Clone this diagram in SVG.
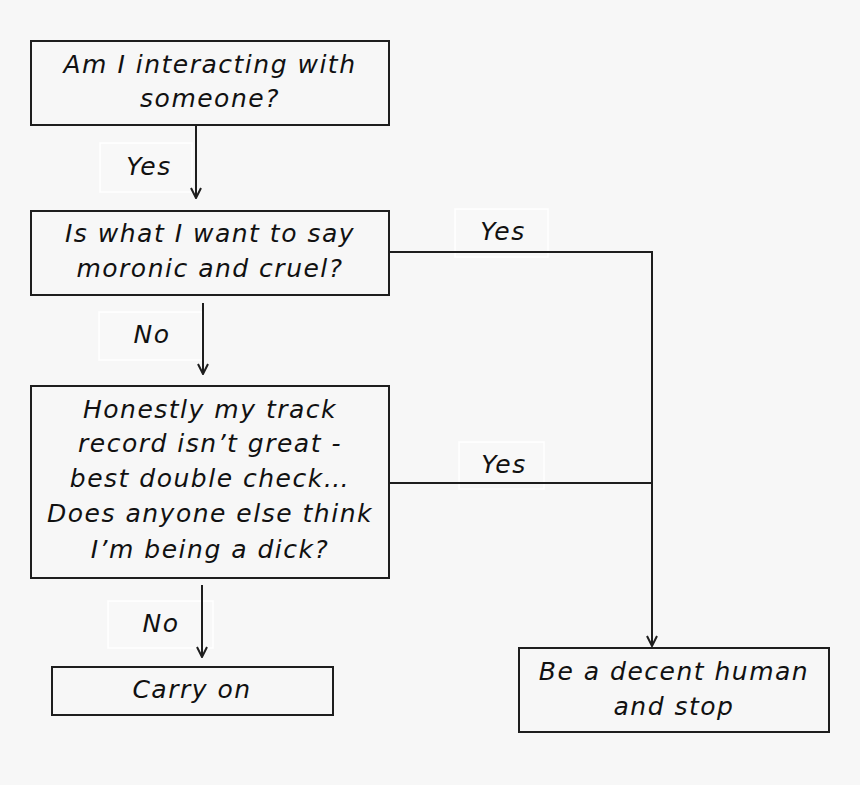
<svg xmlns="http://www.w3.org/2000/svg" width="860" height="785" viewBox="0 0 860 785">
<defs>
<style>
.bg{fill:#f7f7f7}
.node{fill:#f7f7f7;stroke:#1e1e1e;stroke-width:2}
.lbl{fill:#f8f8f8;stroke:#ffffff;stroke-width:1.5}
.t{font-family:"DejaVu Sans","Liberation Sans",sans-serif;font-style:italic;font-size:25px;fill:#111;text-anchor:middle;letter-spacing:1.5px}
.c{fill:none;stroke:#1e1e1e;stroke-width:2}
</style>
<marker id="arr" viewBox="0 0 12 12" refX="11" refY="6" markerWidth="12" markerHeight="12" markerUnits="userSpaceOnUse" orient="auto">
<path d="M1,1 L11,6 L1,11" fill="none" stroke="#1e1e1e" stroke-width="2"/>
</marker>
</defs>
<rect class="bg" x="0" y="0" width="860" height="785"/>
<g id="labels">
<rect class="lbl" x="100" y="143" width="92" height="49"/>
<text class="t" x="149" y="175">Yes</text>
<rect class="lbl" x="99" y="312" width="103" height="48"/>
<text class="t" x="152" y="343">No</text>
<rect class="lbl" x="455" y="209" width="93" height="48"/>
<text class="t" x="503" y="240">Yes</text>
<rect class="lbl" x="459" y="442" width="85" height="47"/>
<text class="t" x="504" y="473">Yes</text>
<rect class="lbl" x="108" y="601" width="105" height="47"/>
<text class="t" x="161" y="632">No</text>
</g>
<g id="connectors">
<line class="c" x1="196" y1="126" x2="196" y2="198" marker-end="url(#arr)"/>
<line class="c" x1="203" y1="303" x2="203" y2="374" marker-end="url(#arr)"/>
<line class="c" x1="202" y1="585" x2="202" y2="657" marker-end="url(#arr)"/>
<polyline class="c" points="389,252 652,252 652,646" marker-end="url(#arr)"/>
<line class="c" x1="389" y1="483" x2="652" y2="483"/>
</g>
<g id="q1">
<rect class="node" x="31" y="41" width="358" height="84"/>
<text class="t" x="210" y="73">Am I interacting with</text>
<text class="t" x="210" y="107">someone?</text>
</g>
<g id="q2">
<rect class="node" x="31" y="211" width="358" height="84"/>
<text class="t" x="210" y="242">Is what I want to say</text>
<text class="t" x="210" y="277">moronic and cruel?</text>
</g>
<g id="q3">
<rect class="node" x="31" y="386" width="358" height="192"/>
<text class="t" x="210" y="418">Honestly my track</text>
<text class="t" x="210" y="452">record isn’t great -</text>
<text class="t" x="210" y="487">best double check…</text>
<text class="t" x="210" y="522">Does anyone else think</text>
<text class="t" x="210" y="558">I’m being a dick?</text>
</g>
<g id="carry">
<rect class="node" x="52" y="667" width="281" height="48"/>
<text class="t" x="192" y="698">Carry on</text>
</g>
<g id="stop">
<rect class="node" x="519" y="648" width="310" height="84"/>
<text class="t" x="674" y="680">Be a decent human</text>
<text class="t" x="674" y="715">and stop</text>
</g>
</svg>
